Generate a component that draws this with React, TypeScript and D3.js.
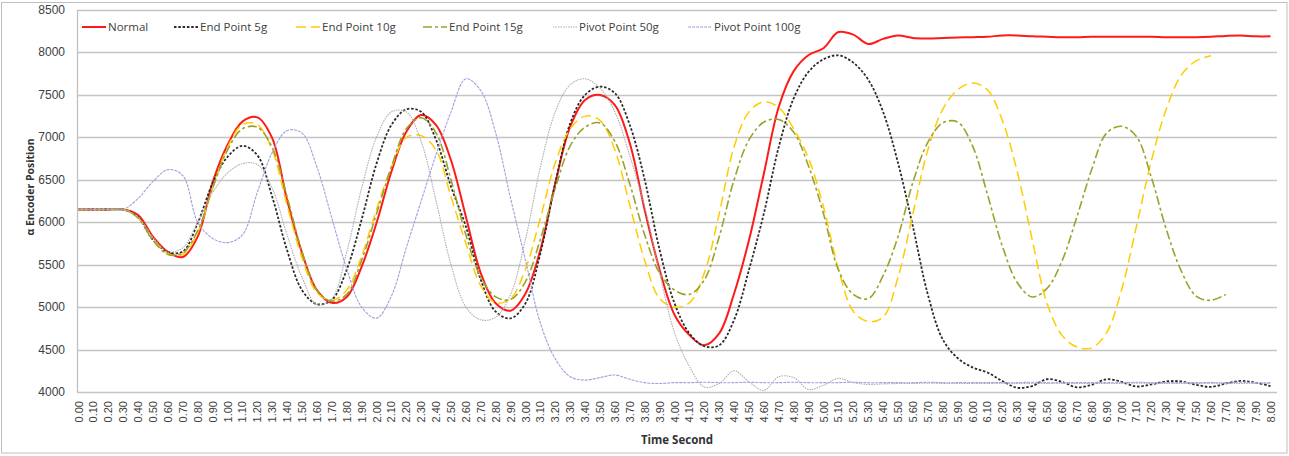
import React from "react";
import * as d3 from "d3";

const categories = [
  "0.00","0.10","0.20","0.30","0.40","0.50","0.60","0.70","0.80","0.90",
  "1.00","1.10","1.20","1.30","1.40","1.50","1.60","1.70","1.80","1.90",
  "2.00","2.10","2.20","2.30","2.40","2.50","2.60","2.70","2.80","2.90",
  "3.00","3.10","3.20","3.30","3.40","3.50","3.60","3.70","3.80","3.90",
  "4.00","4.10","4.20","4.30","4.40","4.50","4.60","4.70","4.80","4.90",
  "5.00","5.10","5.20","5.30","5.40","5.50","5.60","5.70","5.80","5.90",
  "6.00","6.10","6.20","6.30","6.40","6.50","6.60","6.70","6.80","6.90",
  "7.00","7.10","7.20","7.30","7.40","7.50","7.60","7.70","7.80","7.90",
  "8.00",
];

const yTicks = [4000, 4500, 5000, 5500, 6000, 6500, 7000, 7500, 8000, 8500];

const normal = [
  6150,6150,6150,6150,6085,5830,5650,5590,5830,6470,
  6910,7185,7235,6990,6260,5640,5200,5050,5120,5475,
  5990,6595,7065,7263,7145,6730,6065,5400,5045,4958,
  5160,5675,6460,7125,7440,7500,7380,6930,6145,5440,
  4910,4670,4550,4690,5160,5790,6575,7360,7780,7970,
  8050,8240,8210,8100,8160,8200,8170,8165,8170,8175,
  8180,8185,8200,8200,8190,8185,8180,8180,8185,8185,
  8185,8185,8185,8180,8180,8180,8185,8195,8200,8190,
  8190,
];

const endPoint5g = [
  6150,6150,6150,6150,6060,5790,5650,5655,5990,6460,
  6770,6900,6790,6300,5670,5200,5035,5085,5440,6030,
  6690,7145,7330,7300,6970,6420,5950,5320,4946,4868,
  5045,5635,6460,7165,7500,7597,7520,7145,6500,5675,
  5045,4690,4540,4550,4850,5440,6105,6890,7460,7773,
  7920,7965,7880,7680,7300,6700,5950,5150,4620,4400,
  4290,4230,4130,4050,4070,4150,4120,4055,4085,4150,
  4120,4065,4090,4125,4125,4085,4060,4100,4130,4110,
  4070,
];

const endPoint10g = [
  6150,6150,6150,6150,6050,5800,5630,5620,5880,6400,
  6880,7150,7150,6850,6200,5580,5170,5080,5200,5600,
  6150,6650,7000,7020,6850,6300,5750,5250,5050,5100,
  5450,6050,6700,7100,7250,7200,6850,6200,5550,5100,
  5000,5050,5400,6100,6890,7300,7420,7350,7100,6750,
  6180,5450,4950,4830,4880,5350,6100,6850,7330,7560,
  7640,7560,7200,6600,5800,5045,4670,4530,4520,4700,
  5200,5950,6720,7330,7730,7900,7960,null,null,null,
  null,
];

const endPoint15g = [
  6150,6150,6150,6150,6050,5790,5620,5640,5900,6400,
  6850,7100,7120,6880,6300,5650,5200,5070,5150,5550,
  6100,6650,7100,7230,7050,6500,5850,5350,5120,5090,
  5300,5800,6400,6900,7120,7170,6950,6450,5850,5400,
  5200,5150,5320,5830,6500,6970,7180,7210,7060,6660,
  6100,5440,5150,5100,5370,5830,6470,6940,7170,7180,
  6900,6330,5720,5290,5120,5220,5540,6060,6620,7050,
  7130,7010,6530,5920,5430,5130,5080,5150,null,null,
  null,
];

const pivotPoint50g = [
  6150,6150,6150,6150,6060,5820,5650,5700,6000,6350,
  6580,6690,6680,6400,5850,5350,5030,5100,5650,6400,
  7000,7300,7300,6950,6250,5500,5000,4850,4880,5150,
  5800,6650,7300,7620,7690,7580,7300,6780,6180,5400,
  4700,4300,4060,4100,4250,4120,4020,4180,4170,4030,
  4080,4160,4110,4090,4095,4100,4100,4105,4100,4100,
  4100,4100,4105,4100,4100,4100,4105,4100,4100,4100,
  4100,4105,4100,4100,4100,4100,4105,4100,4100,4100,
  4100,
];

const pivotPoint100g = [
  6150,6150,6150,6150,6280,6480,6620,6550,6000,5810,
  5760,5850,6350,6820,7080,7050,6650,6050,5450,5000,
  4870,5130,5700,6250,6800,7300,7690,7550,7050,6280,
  5550,4810,4390,4180,4140,4170,4200,4150,4110,4100,
  4110,4110,4115,4110,4110,4115,4110,4110,4115,4110,
  4110,4110,4115,4110,4110,4110,4110,4115,4110,4110,
  4110,4110,4110,4110,4115,4110,4110,4110,4110,4110,
  4110,4115,4110,4110,4110,4110,4110,4110,4115,4110,
  4110,
];

const seriesNames = ["Normal", "End Point 5g", "End Point 10g", "End Point 15g", "Pivot Point 50g", "Pivot Point 100g"];
const seriesValues = [normal, endPoint5g, endPoint10g, endPoint15g, pivotPoint50g, pivotPoint100g];

const seriesStyles = [
  { color: "#FF1A1A", width: 2, dash: "" },
  { color: "#2B2B2B", width: 1.8, dash: "2.5,1.8" },
  { color: "#FFCC00", width: 1.5, dash: "10,5" },
  { color: "#9AA22C", width: 1.6, dash: "9,3,3,3" },
  { color: "#ADADAD", width: 1.1, dash: "1.5,1" },
  { color: "#A0A0DC", width: 1.1, dash: "3,1" },
];

const legendX = [82, 174, 296, 423, 553, 688];

const W = 1289;
const H = 456;
const plotLeft = 77;
const plotRight = 1277;
const plotTop = 10;
const plotBottom = 392;

export default function App() {
  const x = d3.scalePoint<string>().domain(categories).range([78.5, 1270.5]);
  const y = d3.scaleLinear().domain([4000, 8500]).range([plotBottom, plotTop]);

  const lineGen = d3
    .line<number | null>()
    .defined((d) => d !== null)
    .x((_, i) => x(categories[i]) as number)
    .y((d) => y(d as number))
    .curve(d3.curveCatmullRom.alpha(0.5));

  const tickFont = "'Liberation Sans', Arial, sans-serif";
  const labelFont = "'Open Sans', 'Noto Sans', sans-serif";

  return (
    <svg
      width={W}
      height={H}
      style={{ position: "absolute", left: 0, top: 0, background: "#fff" }}
    >
      <rect x={0} y={0} width={W} height={H} fill="#fff" />
      <rect x={1.5} y={2.5} width={1285.5} height={450.5} fill="none" stroke="#BFBFBF" strokeWidth={1} />

      {yTicks.map((t) => (
        <line
          key={"g" + t}
          x1={plotLeft}
          x2={plotRight}
          y1={Math.round(y(t)) + 0.5}
          y2={Math.round(y(t)) + 0.5}
          stroke="#C4C4C4"
          strokeWidth={1.3}
        />
      ))}
      <line x1={plotLeft + 0.5} x2={plotLeft + 0.5} y1={plotTop} y2={plotBottom} stroke="#C0C0C0" strokeWidth={1.3} />

      {yTicks.map((t) => (
        <text
          key={"yl" + t}
          x={65}
          y={y(t) + 4}
          textAnchor="end"
          fontFamily={tickFont}
          fontSize={12}
          fill="#404040"
        >
          {t}
        </text>
      ))}

      {categories.map((c) => (
        <text
          key={"xl" + c}
          transform={`translate(${(x(c) as number) + 4},401) rotate(-90)`}
          textAnchor="end"
          fontFamily={tickFont}
          fontSize={11}
          fill="#404040"
        >
          {c}
        </text>
      ))}

      <text
        x={677}
        y={444}
        textAnchor="middle"
        fontFamily={labelFont}
        fontWeight="bold"
        fontSize={11.5}
        fill="#333"
      >
        Time Second
      </text>
      <text
        transform="translate(34,187) rotate(-90)"
        textAnchor="middle"
        fontFamily={labelFont}
        fontWeight="bold"
        fontSize={10.5}
        fill="#333"
      >
        α Encoder Position
      </text>

      {seriesValues.map((vals, i) => (
        <path
          key={"s" + i}
          d={lineGen(vals) || ""}
          fill="none"
          stroke={seriesStyles[i].color}
          strokeWidth={seriesStyles[i].width}
          strokeDasharray={seriesStyles[i].dash}
          strokeLinejoin="round"
        />
      ))}

      {seriesNames.map((name, i) => (
        <g key={"lg" + i}>
          <line
            x1={legendX[i]}
            x2={legendX[i] + 24}
            y1={27}
            y2={27}
            stroke={seriesStyles[i].color}
            strokeWidth={seriesStyles[i].width}
            strokeDasharray={seriesStyles[i].dash}
          />
          <text
            x={legendX[i] + 26}
            y={31}
            fontFamily={labelFont}
            fontSize={11.5}
            fill="#404040"
          >
            {name}
          </text>
        </g>
      ))}
    </svg>
  );
}
